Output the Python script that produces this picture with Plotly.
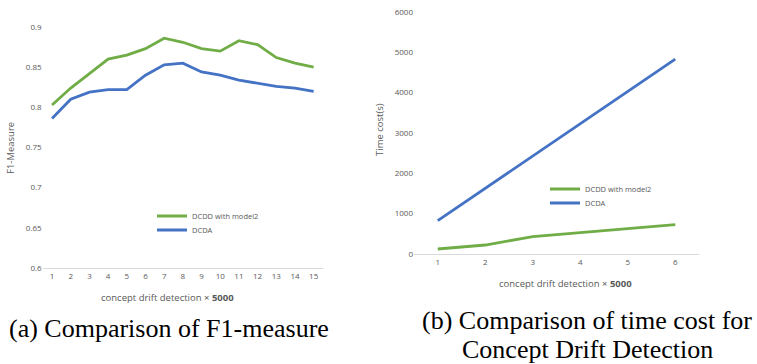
import plotly.graph_objects as go

# ---- data ----
f1_x = list(range(1, 16))
f1_dcdd = [0.803, 0.824, 0.842, 0.860, 0.865, 0.873, 0.886, 0.881, 0.873, 0.870, 0.883, 0.878, 0.862, 0.855, 0.850]
f1_dcda = [0.786, 0.810, 0.819, 0.822, 0.822, 0.840, 0.853, 0.855, 0.844, 0.840, 0.834, 0.830, 0.826, 0.824, 0.820]
f1_ticks = [0.6, 0.65, 0.7, 0.75, 0.8, 0.85, 0.9]
f1_ticktext = ["0.6", "0.65", "0.7", "0.75", "0.8", "0.85", "0.9"]

time_x = list(range(1, 7))
time_dcdd = [124, 223, 430, 538, 628, 727]
time_dcda = [826, 1627, 2430, 3230, 4030, 4831]
time_ticks = [0, 1000, 2000, 3000, 4000, 5000, 6000]

series_names = ["DCDD with model2", "DCDA"]
green = "#70ad47"
blue = "#4472c4"

W, H = 757, 364
def px(x):
    return x / W
def py(y):
    return 1 - y / H

sans = "Open Sans, Arial, sans-serif"
gray = "#595959"

fig = go.Figure()
fig.add_trace(go.Scatter(x=f1_x, y=f1_dcdd, mode="lines", name=series_names[0],
                         line=dict(color=green, width=2.8), xaxis="x", yaxis="y", legend="legend"))
fig.add_trace(go.Scatter(x=f1_x, y=f1_dcda, mode="lines", name=series_names[1],
                         line=dict(color=blue, width=2.8), xaxis="x", yaxis="y", legend="legend2"))
fig.add_trace(go.Scatter(x=time_x, y=time_dcdd, mode="lines", name=series_names[0],
                         line=dict(color=green, width=2.8), xaxis="x2", yaxis="y2", legend="legend3"))
fig.add_trace(go.Scatter(x=time_x, y=time_dcda, mode="lines", name=series_names[1],
                         line=dict(color=blue, width=2.8), xaxis="x2", yaxis="y2", legend="legend4"))

tickfont = dict(family=sans, size=8, color=gray)
titlefont = dict(family=sans, size=9.5, color=gray)
legfont = dict(family=sans, size=7.5, color=gray)

def leg(x, y):
    return dict(x=px(x), y=py(y), xanchor="left", yanchor="middle", font=legfont,
                bgcolor="rgba(0,0,0,0)", borderwidth=0, itemwidth=30)

fig.update_layout(
    width=W, height=H,
    margin=dict(l=0, r=0, t=0, b=0, autoexpand=False),
    paper_bgcolor="white", plot_bgcolor="white",
    showlegend=True,
    xaxis=dict(domain=[px(42.7), px(323)], range=[0.5, 15.5], tickvals=f1_x,
               showgrid=False, zeroline=False, showline=True, linecolor="#d9d9d9", linewidth=1,
               ticks="", tickfont=tickfont, anchor="y", automargin=False),
    yaxis=dict(domain=[py(268), py(27)], range=[0.6, 0.9], tickvals=f1_ticks, ticktext=f1_ticktext,
               showgrid=False, zeroline=False, showline=False, ticks="", tickfont=tickfont,
               anchor="x", automargin=False),
    xaxis2=dict(domain=[px(414), px(699)], range=[0.5, 6.5], tickvals=time_x,
                showgrid=False, zeroline=False, showline=True, linecolor="#d9d9d9", linewidth=1,
                ticks="", tickfont=tickfont, anchor="y2", automargin=False),
    yaxis2=dict(domain=[py(254), py(12)], range=[0, 6000], tickvals=time_ticks,
                showgrid=False, zeroline=False, showline=False, ticks="", tickfont=tickfont,
                anchor="x2", automargin=False),
    legend=leg(152, 216),
    legend2=leg(152, 230),
    legend3=leg(545, 189),
    legend4=leg(545, 203),
    annotations=[
        dict(text="concept drift detection × <b>5000</b>", x=px(167), y=py(297), xref="paper", yref="paper",
             showarrow=False, xanchor="center", yanchor="middle", font=titlefont),
        dict(text="concept drift detection × <b>5000</b>", x=px(565), y=py(283), xref="paper", yref="paper",
             showarrow=False, xanchor="center", yanchor="middle", font=titlefont),
        dict(text="F1-Measure", x=px(10), y=py(148), xref="paper", yref="paper", textangle=-90,
             showarrow=False, xanchor="center", yanchor="middle", font=titlefont),
        dict(text="Time cost(s)", x=px(379), y=py(130), xref="paper", yref="paper", textangle=-90,
             showarrow=False, xanchor="center", yanchor="middle", font=titlefont),
        dict(text="(a) Comparison of F1-measure", x=px(169), y=py(328), xref="paper", yref="paper",
             showarrow=False, xanchor="center", yanchor="middle",
             font=dict(family="Liberation Serif, serif", size=26, color="black")),
        dict(text="(b) Comparison of time cost for", x=px(587), y=py(320), xref="paper", yref="paper",
             showarrow=False, xanchor="center", yanchor="middle",
             font=dict(family="Liberation Serif, serif", size=26, color="black")),
        dict(text="Concept Drift Detection", x=px(587), y=py(349), xref="paper", yref="paper",
             showarrow=False, xanchor="center", yanchor="middle",
             font=dict(family="Liberation Serif, serif", size=26, color="black")),
    ],
)

fig.write_html("out.html", config={"displayModeBar": False},
               post_script="document.body.style.margin='0';document.body.style.overflow='hidden';")
